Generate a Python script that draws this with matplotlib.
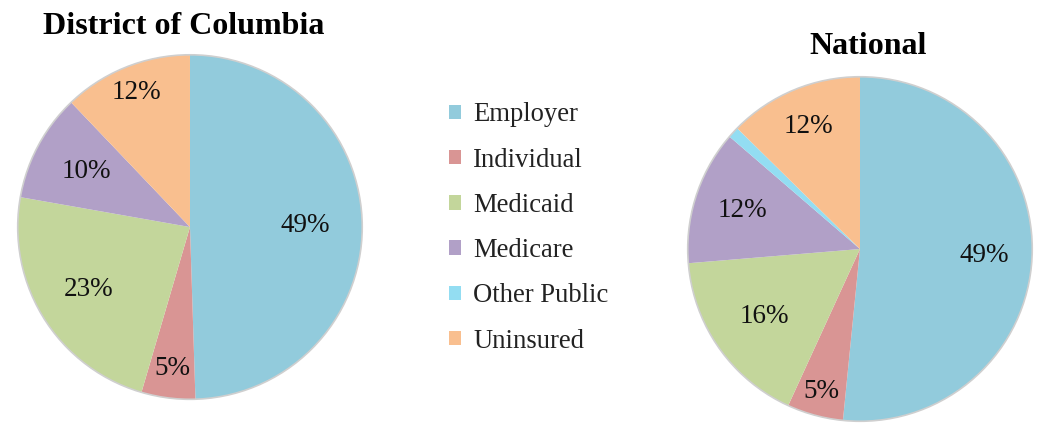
import matplotlib
matplotlib.use("Agg")
import matplotlib.pyplot as plt
import numpy as np

# coverage categories and the two pies
categories = ["Employer", "Individual", "Medicaid", "Medicare", "Other Public", "Uninsured"]
dc_values = [49, 5, 23, 10, 0, 12]
national_values = [49, 5, 16, 12, 1, 12]
colors = ["#92CBDC", "#D99594", "#C3D69B", "#B1A0C7", "#93DDF2", "#F9BF8F"]

# how far out each data label sits (fraction of radius), excel "best fit"
dc_label_dist = [0.67, 0.83, 0.69, 0.68, 0.7, 0.84]
national_label_dist = [0.72, 0.86, 0.68, 0.72, 0.7, 0.77]

plt.rcParams["font.family"] = ["Liberation Serif", "DejaVu Serif"]

fig = plt.figure(figsize=(10.37, 4.28), dpi=100)


def value_label(values):
    total = sum(values)

    # Excel showed the raw values, not the share of the total
    def fmt(p):
        v = p * total / 100.0
        if v < 2:
            return ""
        return "%d%%" % round(v)
    return fmt


def draw_pie(rect, values, label_dist):
    ax = fig.add_axes(rect)
    wedges, texts, autotexts = ax.pie(
        values, colors=colors, startangle=90, counterclock=False,
        autopct=value_label(values), pctdistance=0.68,
        wedgeprops=dict(linewidth=0, edgecolor="none"),
        textprops=dict(fontsize=19.5, color="#111111"))
    for w, t, d in zip(wedges, autotexts, label_dist):
        mid = np.deg2rad((w.theta1 + w.theta2) / 2)
        t.set_position((d * np.cos(mid), d * np.sin(mid)))
    # soft rim like the excel shadow
    rim = plt.Circle((0, 0), 1.0, fill=False, edgecolor="#cfcfcf", linewidth=1.2)
    ax.add_patch(rim)
    ax.set_xlim(-1.01, 1.01)
    ax.set_ylim(-1.01, 1.01)
    ax.set_aspect("equal")
    return wedges


draw_pie([0.0154, 0.063, 0.3356, 0.813], dc_values, dc_label_dist)
nat_wedges = draw_pie([0.6615, 0.0117, 0.3356, 0.813], national_values, national_label_dist)

fig.text(184 / 1037, 1 - 26 / 428, "District of Columbia", ha="center", va="center",
         fontsize=23, fontweight="bold")
fig.text(868 / 1037, 1 - 47 / 428, "National", ha="center", va="center",
         fontsize=23, fontweight="bold")

leg = fig.legend(nat_wedges, categories, loc="center left",
                 bbox_to_anchor=(425 / 1037, 1 - 228 / 428), frameon=False,
                 fontsize=19.2, handlelength=0.45, handleheight=0.45,
                 handletextpad=0.45, labelspacing=0.76)
for t in leg.get_texts():
    t.set_color("#222222")

fig.savefig("out.png", dpi=100)
